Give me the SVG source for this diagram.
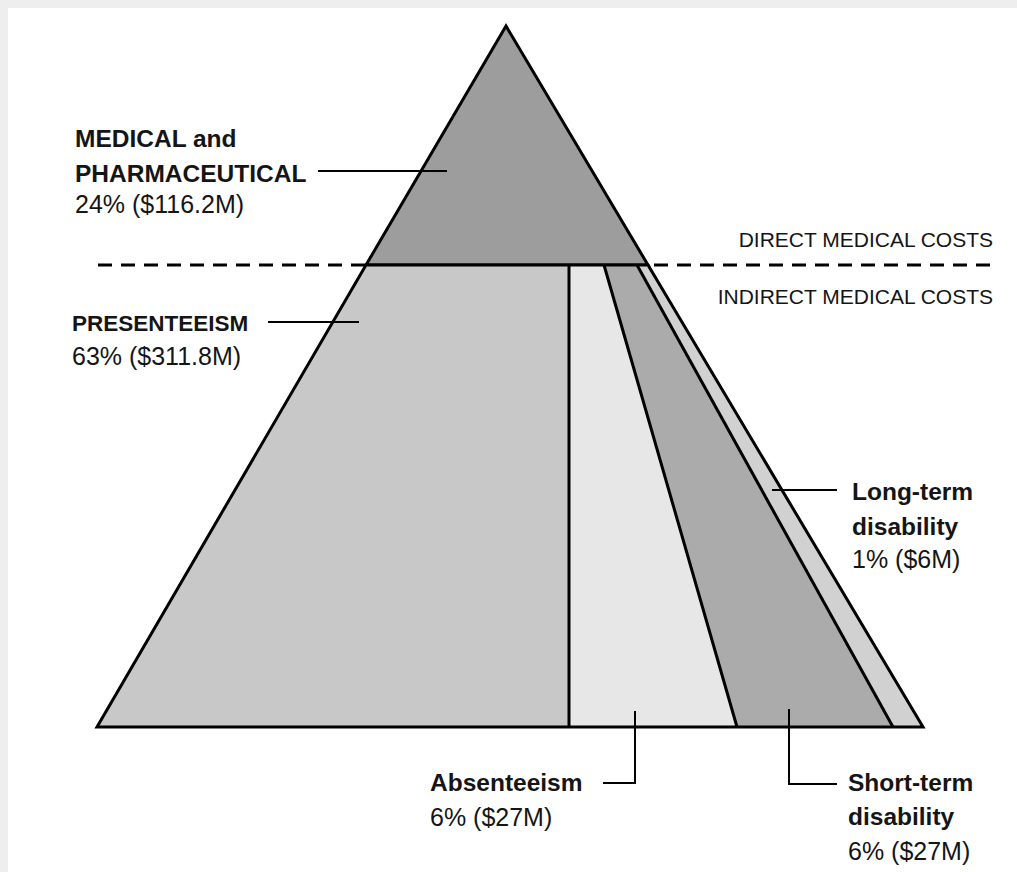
<svg xmlns="http://www.w3.org/2000/svg" width="1017" height="872" viewBox="0 0 1017 872">
<style>
.lbl{font-family:"Liberation Sans",Arial,sans-serif;font-size:25px;fill:#151515}
.b{font-weight:bold;font-size:24.5px}
.cat{font-family:"Liberation Sans",Arial,sans-serif;font-size:21px;fill:#151515}
.edge{stroke:#000;stroke-width:3;stroke-linejoin:miter}
.lead{stroke:#000;stroke-width:2;fill:none}
.dash{stroke:#000;stroke-width:3;stroke-dasharray:14 9}
</style>
<rect x="0" y="0" width="1017" height="872" fill="#eeeeee"/>
<rect x="8" y="8" width="1009" height="864" fill="#ffffff"/>
<g id="medical">
<polygon points="506,26 366,265 648,265" fill="#9d9d9d" class="edge"/>
</g>
<g id="presenteeism">
<polygon points="366,265 569,265 569,727 97,727" fill="#c8c8c8"/>
</g>
<g id="absenteeism">
<polygon points="569,265 604,265 737,727 569,727" fill="#e7e7e7"/>
</g>
<g id="short-term">
<polygon points="604,265 637,265 893,727 737,727" fill="#ababab"/>
</g>
<g id="long-term">
<polygon points="637,265 648,265 923,727 893,727" fill="#d1d1d1"/>
</g>
<g id="outlines">
<polygon points="366,265 648,265 923,727 97,727" class="edge" fill="none"/>
<line x1="569" y1="265" x2="569" y2="727" class="edge"/>
<line x1="604" y1="265" x2="737" y2="727" class="edge"/>
<line x1="637" y1="265" x2="893" y2="727" class="edge"/>
</g>
<g id="connectors">
<line x1="98" y1="265" x2="366" y2="265" class="dash"/>
<line x1="654" y1="265" x2="995" y2="265" class="dash"/>
<line x1="318" y1="171" x2="447" y2="171" class="lead"/>
<line x1="268" y1="322" x2="359" y2="322" class="lead"/>
<line x1="772" y1="490" x2="837" y2="490" class="lead"/>
<polyline points="603,783 635,783 635,711" class="lead"/>
<polyline points="789,709 789,784 837,784" class="lead"/>
</g>
<g id="labels">
<text class="lbl b" x="75" y="147">MEDICAL and</text>
<text class="lbl b" x="75" y="182">PHARMACEUTICAL</text>
<text class="lbl" x="75" y="213">24% ($116.2M)</text>
<text class="cat" x="993" y="247" text-anchor="end">DIRECT MEDICAL COSTS</text>
<text class="cat" x="993" y="304" text-anchor="end">INDIRECT MEDICAL COSTS</text>
<text class="lbl b" x="72" y="331" style="font-size:22.5px">PRESENTEEISM</text>
<text class="lbl" x="72" y="365">63% ($311.8M)</text>
<text class="lbl b" x="852" y="500">Long-term</text>
<text class="lbl b" x="852" y="535">disability</text>
<text class="lbl" x="852" y="568">1% ($6M)</text>
<text class="lbl b" x="430" y="791">Absenteeism</text>
<text class="lbl" x="430" y="826">6% ($27M)</text>
<text class="lbl b" x="848" y="791">Short-term</text>
<text class="lbl b" x="848" y="825">disability</text>
<text class="lbl" x="848" y="860">6% ($27M)</text>
</g>
</svg>
